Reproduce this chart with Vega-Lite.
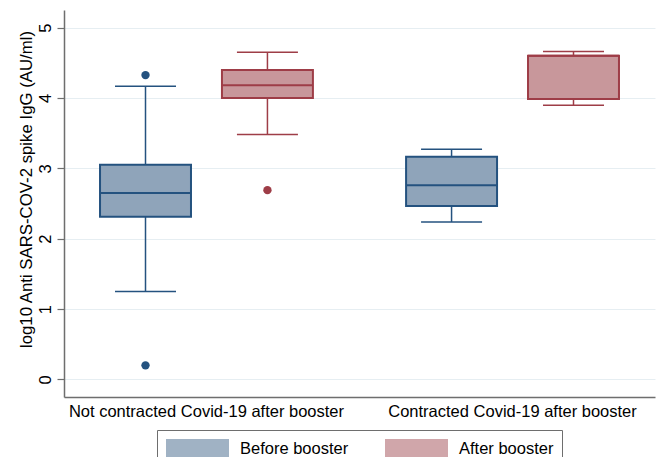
{
  "$schema": "https://vega.github.io/schema/vega-lite/v6.json",
  "width": 591,
  "height": 387,
  "autosize": {"type": "none"},
  "padding": {"left": 64, "top": 10, "right": 7, "bottom": 60},
  "background": "#ffffff",
  "config": {
    "font": "Liberation Sans",
    "view": {"stroke": null},
    "axis": {"labelColor": "#000000", "titleColor": "#000000", "labelFontSize": 16.5, "titleFontSize": 16.8, "titleFontWeight": "normal", "domainColor": "#6e6e6e", "domainWidth": 1.5, "tickColor": "#6e6e6e"}
  },
  "datasets": {
    "summary": [
      {"group": "Not contracted Covid-19 after booster", "series": "Before booster", "lower": 1.25, "q1": 2.31, "median": 2.65, "q3": 3.05, "upper": 4.165},
      {"group": "Not contracted Covid-19 after booster", "series": "After booster", "lower": 3.48, "q1": 4.0, "median": 4.18, "q3": 4.396, "upper": 4.65},
      {"group": "Contracted Covid-19 after booster", "series": "Before booster", "lower": 2.237, "q1": 2.465, "median": 2.76, "q3": 3.165, "upper": 3.27},
      {"group": "Contracted Covid-19 after booster", "series": "After booster", "lower": 3.895, "q1": 3.985, "median": 4.6, "q3": 4.6, "upper": 4.66}
    ],
    "outliers": [
      {"group": "Not contracted Covid-19 after booster", "series": "Before booster", "value": 4.325},
      {"group": "Not contracted Covid-19 after booster", "series": "Before booster", "value": 0.2},
      {"group": "Not contracted Covid-19 after booster", "series": "After booster", "value": 2.69}
    ]
  },
  "encoding": {
    "x": {
      "field": "group", "type": "nominal",
      "scale": {"domain": ["Not contracted Covid-19 after booster", "Contracted Covid-19 after booster"], "paddingInner": 0.2, "paddingOuter": 0.0655},
      "axis": {"title": null, "labelAngle": 0, "ticks": false, "labelPadding": 6, "grid": false, "labelLimit": 0}
    },
    "xOffset": {
      "field": "series", "type": "nominal",
      "scale": {"domain": ["Before booster", "After booster"], "paddingInner": 0.254, "paddingOuter": 0.131}
    }
  },
  "layer": [
    {
      "data": {"name": "summary"},
      "mark": {"type": "rule", "strokeWidth": 1.5},
      "encoding": {
        "y": {
          "field": "lower", "type": "quantitative",
          "scale": {"domain": [-0.25, 5.25], "nice": false, "zero": false},
          "axis": {
            "values": [0, 1, 2, 3, 4, 5], "format": "d",
            "title": "log10 Anti SARS-COV-2 spike IgG (AU/ml)",
            "labelAngle": -90, "labelAlign": "center", "labelBaseline": "middle",
            "labelPadding": 12, "tickSize": 7, "tickWidth": 1.2,
            "grid": true, "gridColor": "#e6eef2", "gridWidth": 1,
            "titleAngle": -90, "titleX": -38, "titleY": 179, "titleAlign": "center", "titleBaseline": "middle"
          }
        },
        "y2": {"field": "upper"},
        "color": {"field": "series", "type": "nominal", "scale": {"domain": ["After booster", "Before booster"], "range": ["#9e3d47", "#24527f"]}, "legend": null}
      }
    },
    {
      "data": {"name": "summary"},
      "mark": {"type": "tick", "size": 61, "thickness": 1.5, "opacity": 1},
      "encoding": {
        "y": {"field": "lower", "type": "quantitative"},
        "color": {"field": "series", "type": "nominal", "legend": null}
      }
    },
    {
      "data": {"name": "summary"},
      "mark": {"type": "tick", "size": 61, "thickness": 1.5, "opacity": 1},
      "encoding": {
        "y": {"field": "upper", "type": "quantitative"},
        "color": {"field": "series", "type": "nominal", "legend": null}
      }
    },
    {
      "data": {"name": "summary"},
      "mark": {"type": "bar", "strokeWidth": 2, "opacity": 1},
      "encoding": {
        "y": {"field": "q1", "type": "quantitative"},
        "y2": {"field": "q3"},
        "fill": {
          "field": "series", "type": "nominal",
          "scale": {"domain": ["Before booster", "After booster"], "range": ["#8fa4ba", "#c8979b"]},
          "legend": {
            "orient": "none", "legendX": 93, "legendY": 420, "direction": "horizontal", "columns": 2,
            "title": null,
            "symbolType": "M-1,-1H5.3V1H-1Z", "symbolSize": 400, "symbolStrokeWidth": 1.5, "symbolOpacity": 0.85,
            "labelOffset": 53, "labelFontSize": 16.5, "labelColor": "#000000", "labelFont": "Liberation Sans",
            "columnPadding": 35, "padding": 8, "strokeColor": "#6e6e6e", "fillColor": "#ffffff"
          }
        },
        "stroke": {"field": "series", "type": "nominal", "scale": {"domain": ["After booster", "Before booster"], "range": ["#9e3d47", "#24527f"]}, "legend": null}
      }
    },
    {
      "data": {"name": "summary"},
      "mark": {"type": "tick", "size": 91, "thickness": 2, "opacity": 1},
      "encoding": {
        "y": {"field": "median", "type": "quantitative"},
        "color": {"field": "series", "type": "nominal", "legend": null}
      }
    },
    {
      "data": {"name": "outliers"},
      "mark": {"type": "point", "filled": true, "size": 70, "opacity": 1},
      "encoding": {
        "y": {"field": "value", "type": "quantitative"},
        "color": {"field": "series", "type": "nominal", "legend": null}
      }
    }
  ]
}
